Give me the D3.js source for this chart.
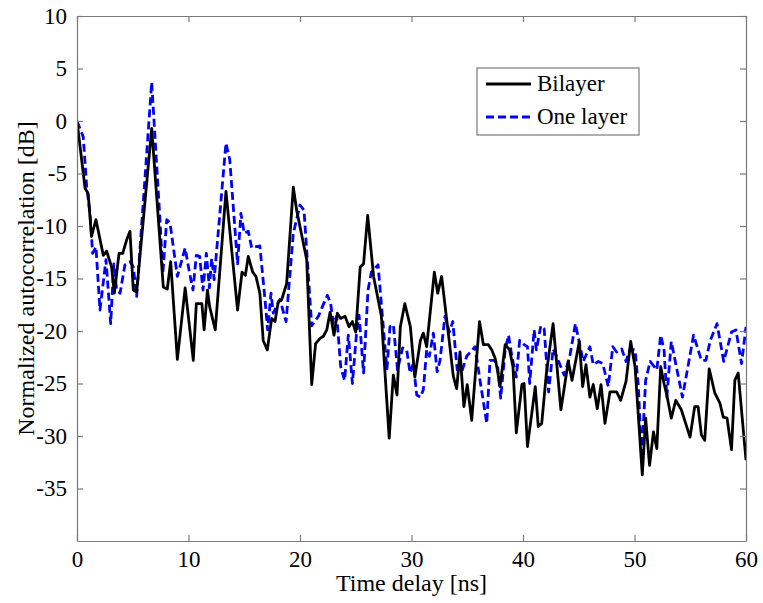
<!DOCTYPE html>
<html>
<head>
<meta charset="utf-8">
<script src="https://cdn.jsdelivr.net/npm/d3@7"></script>
<style>
  html, body { margin: 0; padding: 0; background: #fff; }
  svg { display: block; }
  text { font-family: "Liberation Serif", "Times New Roman", serif; fill: #000; }
</style>
</head>
<body>
<svg id="chart" width="763" height="603"></svg>
<script>
// ---- data ----
const bilayerT = [0, 0.72, 1.0, 1.3, 1.7, 2.36, 2.66, 3.1, 3.35, 3.77, 4.1, 4.46, 4.75, 5.05, 5.35, 6.7, 7.74, 8.1, 8.4, 9.0, 9.7, 10.43, 10.7, 11.2, 11.4, 11.7, 11.9, 12.4, 13.36, 14.4, 14.8, 15.1, 15.36, 15.76, 16.05, 16.4, 16.7, 17.07, 17.46, 17.76, 18.05, 18.36, 18.8, 19.4, 19.7, 20.6, 21.05, 21.4, 21.8, 22.1, 22.4, 22.7, 23.05, 23.35, 23.65, 24.04, 24.4, 24.7, 25.0, 25.4, 25.7, 26.07, 26.6, 27.3, 28.0, 28.37, 28.7, 29.0, 29.4, 29.9, 30.3, 30.8, 31.06, 31.36, 32.05, 32.35, 32.7, 33.3, 33.75, 34.05, 34.35, 34.7, 35.0, 35.4, 36.1, 36.45, 36.9, 37.2, 37.5, 37.7, 37.94, 38.4, 38.8, 39.1, 39.4, 39.9, 40.1, 40.4, 41.1, 41.37, 41.68, 42.1, 42.7, 43.4, 44.06, 44.4, 45.05, 45.35, 45.65, 46.0, 46.3, 46.66, 47.0, 47.35, 47.8, 48.4, 48.76, 49.24, 49.66, 50.05, 50.7, 51.0, 51.35, 51.7, 52.0, 52.35, 52.65, 52.9, 53.3, 53.7, 54.2, 54.98, 55.4, 55.7, 56.0, 56.3, 56.7, 57.2, 57.67, 57.96, 58.3, 58.7, 59.0, 59.3, 60];
const bilayerV = [0, -6.4, -6.9, -11.0, -9.4, -12.8, -12.4, -13.9, -16.4, -12.6, -12.6, -11.3, -10.5, -16.1, -16.3, -0.7, -15.8, -16.0, -13.4, -22.7, -15.9, -22.8, -17.4, -17.4, -19.9, -16.1, -17.7, -19.9, -6.7, -18.0, -14.4, -14.7, -12.9, -14.4, -14.8, -16.4, -20.9, -21.8, -18.8, -19.1, -17.2, -17.0, -15.5, -6.3, -8.5, -13.2, -25.1, -21.2, -20.7, -20.5, -19.9, -18.2, -20.4, -18.3, -18.8, -18.6, -19.6, -19.1, -20.1, -13.9, -13.6, -9.0, -14.8, -18.6, -30.2, -24.2, -26.1, -19.6, -17.4, -19.6, -24.4, -20.9, -20.2, -21.5, -14.4, -16.4, -14.8, -20.2, -24.3, -25.5, -22.0, -27.2, -25.1, -28.5, -19.1, -21.3, -21.3, -21.8, -22.6, -23.7, -25.3, -21.3, -21.8, -23.4, -29.7, -25.1, -25.0, -31.0, -25.3, -29.1, -28.8, -24.0, -19.3, -27.5, -22.9, -24.7, -21.0, -25.3, -23.2, -26.3, -25.1, -27.4, -25.1, -28.8, -25.8, -25.8, -26.6, -24.8, -21.0, -23.4, -33.7, -28.3, -32.8, -29.6, -31.2, -23.4, -25.0, -26.1, -28.3, -26.6, -27.5, -30.1, -27.2, -27.2, -29.9, -30.4, -23.6, -25.9, -26.9, -28.2, -28.3, -31.3, -24.7, -24.0, -32.3];

const oneLayerT = [0, 0.56, 0.87, 1.17, 1.4, 1.7, 2.06, 2.6, 3.02, 3.3, 3.56, 3.86, 4.3, 4.75, 5.05, 5.35, 6.7, 7.44, 7.7, 8.05, 8.34, 9.0, 9.7, 10.1, 10.4, 10.7, 11.0, 11.3, 11.6, 11.87, 12.08, 12.3, 13.36, 13.7, 14.4, 14.7, 15.0, 15.36, 15.67, 15.96, 16.4, 16.86, 17.1, 17.4, 17.6, 18.2, 18.75, 19.4, 20.0, 20.36, 21.05, 21.65, 22.0, 22.45, 22.75, 23.0, 23.3, 23.65, 24.0, 24.33, 24.5, 24.7, 25.08, 25.3, 25.7, 26.1, 26.4, 27.0, 27.6, 27.8, 28.07, 28.37, 28.75, 29.2, 29.57, 29.87, 30.16, 30.47, 30.8, 31.06, 31.36, 31.6, 31.96, 32.3, 32.56, 33.0, 33.4, 33.7, 34.1, 34.5, 34.95, 35.7, 36.1, 36.75, 37.04, 37.4, 37.7, 38.0, 38.4, 38.7, 39.0, 39.4, 39.7, 40.1, 40.4, 40.6, 41.0, 41.2, 41.6, 41.9, 42.3, 42.7, 43.0, 43.7, 44.2, 44.7, 45.4, 46.0, 46.3, 46.75, 47.15, 47.65, 48.05, 48.4, 48.85, 49.24, 49.6, 50.05, 50.35, 50.64, 51.0, 51.4, 52.0, 52.35, 52.65, 52.9, 53.3, 54.3, 55.3, 56.0, 56.4, 56.8, 57.4, 58.0, 58.7, 59.1, 59.6, 60];
const oneLayerV = [0, -1.5, -6.3, -8.8, -12.6, -12.0, -18.0, -13.2, -19.3, -13.6, -16.1, -16.4, -13.7, -13.4, -13.9, -16.7, 3.7, -9.4, -14.5, -9.4, -9.7, -14.8, -12.1, -14.5, -16.1, -12.8, -12.9, -16.1, -12.6, -15.9, -13.1, -15.1, -2.1, -3.7, -13.6, -8.8, -10.7, -10.5, -12.1, -12.0, -11.9, -17.0, -19.9, -16.4, -18.3, -17.0, -19.1, -10.7, -8.0, -8.5, -19.5, -18.6, -17.7, -16.6, -17.4, -19.3, -18.6, -23.4, -24.7, -20.4, -22.4, -25.0, -20.1, -18.5, -24.0, -16.1, -14.4, -13.7, -21.2, -23.6, -19.6, -19.4, -23.7, -21.6, -21.8, -24.0, -23.1, -26.1, -26.3, -25.6, -21.8, -22.4, -20.2, -23.9, -22.8, -18.6, -20.1, -19.1, -23.7, -23.9, -22.4, -21.5, -24.4, -28.8, -22.8, -22.8, -23.1, -26.4, -21.8, -20.4, -22.4, -24.4, -20.9, -21.3, -21.5, -25.0, -19.9, -21.8, -19.5, -19.8, -25.8, -21.7, -22.4, -24.2, -22.4, -19.3, -22.9, -21.5, -23.2, -22.9, -23.1, -25.3, -21.5, -22.0, -21.7, -22.9, -21.7, -21.8, -25.3, -32.2, -24.7, -22.9, -23.7, -20.4, -21.8, -26.3, -21.0, -26.3, -20.4, -22.8, -22.8, -20.9, -19.3, -22.9, -20.1, -19.9, -23.1, -19.6];

const xTicks = [0, 10, 20, 30, 40, 50, 60];
const yTicks = [10, 5, 0, -5, -10, -15, -20, -25, -30, -35];
const seriesNames = ["Bilayer", "One layer"];
const xLabel = "Time delay [ns]";
const yLabel = "Normalized autocorrelation [dB]";

// ---- drawing ----
const svg = d3.select("#chart");
const L = 77, R = 746, T = 16, B = 541;
const x = d3.scaleLinear().domain([0, 60]).range([L, R]);
const y = d3.scaleLinear().domain([-40, 10]).range([B, T]);
const axisColor = "#7a7a7a";
const tickLen = 6;
const FONT = "'Liberation Serif', 'Times New Roman', serif";

const bilayer = bilayerT.map((t, i) => ({t, v: bilayerV[i]}));
const oneLayer = oneLayerT.map((t, i) => ({t, v: oneLayerV[i]}));

svg.append("defs").append("clipPath").attr("id", "clip")
  .append("rect").attr("x", L).attr("y", T).attr("width", R - L).attr("height", B - T);

const line = d3.line().x(d => x(d.t)).y(d => y(d.v));

const g = svg.append("g").attr("clip-path", "url(#clip)");
g.append("path").datum(oneLayer)
  .attr("d", line).attr("fill", "none")
  .attr("stroke", "#0000ff").attr("stroke-width", 2.8)
  .attr("stroke-dasharray", "8,4").attr("stroke-linejoin", "round");
g.append("path").datum(bilayer)
  .attr("d", line).attr("fill", "none")
  .attr("stroke", "#000").attr("stroke-width", 2.8)
  .attr("stroke-linejoin", "round");

// axes (box with inward ticks)
const tfs = 23;
const axB = svg.append("g").attr("transform", `translate(0,${B})`)
  .call(d3.axisBottom(x).tickValues(xTicks).tickSizeInner(-tickLen).tickSizeOuter(0).tickPadding(10));
const axT = svg.append("g").attr("transform", `translate(0,${T})`)
  .call(d3.axisTop(x).tickValues(xTicks).tickSizeInner(-tickLen).tickSizeOuter(0).tickFormat(""));
const axL = svg.append("g").attr("transform", `translate(${L},0)`)
  .call(d3.axisLeft(y).tickValues(yTicks).tickSizeInner(-tickLen).tickSizeOuter(0).tickPadding(10));
const axR = svg.append("g").attr("transform", `translate(${R},0)`)
  .call(d3.axisRight(y).tickValues(yTicks).tickSizeInner(-tickLen).tickSizeOuter(0).tickFormat(""));

[axB, axT, axL, axR].forEach(a => {
  a.attr("font-family", null).attr("font-size", null);
  a.select(".domain").attr("stroke", axisColor).attr("stroke-width", 1.2);
  a.selectAll(".tick line").attr("stroke", axisColor).attr("stroke-width", 1.2);
  a.selectAll(".tick text").style("font-family", FONT)
    .style("font-size", tfs + "px").attr("fill", "#000");
});
axL.selectAll(".tick text").text(d => d < 0 ? "-" + Math.abs(d) : d);

// axis titles
svg.append("text").attr("x", (L + R) / 2).attr("y", 591)
  .attr("text-anchor", "middle").style("font-family", FONT).style("font-size", "24px").text(xLabel);
svg.append("text")
  .attr("transform", `translate(34,${(T + B) / 2}) rotate(-90)`)
  .attr("text-anchor", "middle").style("font-family", FONT).style("font-size", "24px").text(yLabel);

// legend
const lg = svg.append("g");
lg.append("rect").attr("x", 477).attr("y", 68).attr("width", 162).attr("height", 67)
  .attr("fill", "#fff").attr("stroke", axisColor).attr("stroke-width", 1.2);
const items = [
  {name: seriesNames[0], color: "#000", dash: null, yy: 84},
  {name: seriesNames[1], color: "#0000ff", dash: "8,4", yy: 117}
];
items.forEach(it => {
  lg.append("line").attr("x1", 486).attr("x2", 531).attr("y1", it.yy).attr("y2", it.yy)
    .attr("stroke", it.color).attr("stroke-width", 2.8)
    .attr("stroke-dasharray", it.dash);
  lg.append("text").attr("x", 537).attr("y", it.yy + 7).style("font-family", FONT)
    .style("font-size", "23px").text(it.name);
});
</script>
</body>
</html>
